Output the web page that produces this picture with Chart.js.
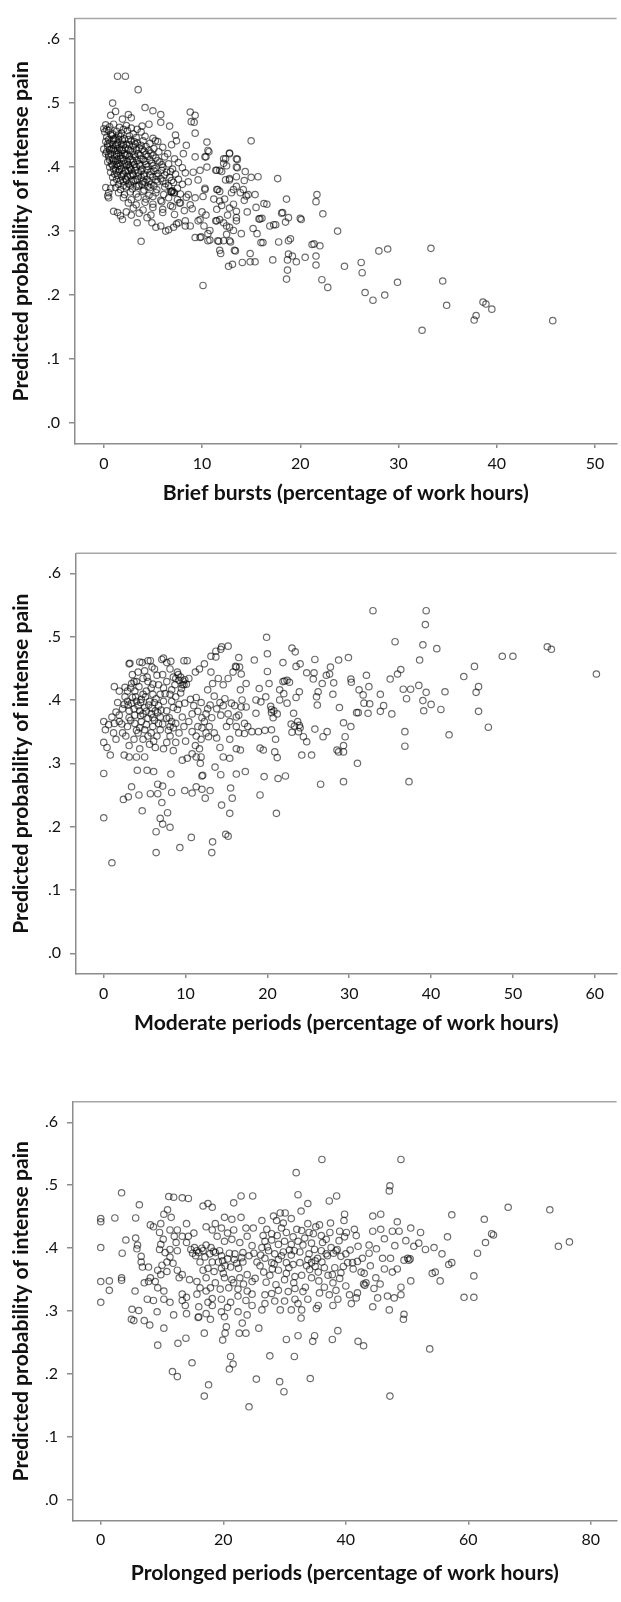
<!DOCTYPE html>
<html lang="en">
<head>
<meta charset="UTF-8">
<title>Predicted probability of intense pain</title>
<style>
    body { margin: 0; background: #fff; }
    .panel { position: absolute; left: 0; }
</style>
</head>
<body>
<canvas id="c1" class="panel" width="621" height="520" style="top:0px"></canvas>
<canvas id="c2" class="panel" width="621" height="520" style="top:530px"></canvas>
<canvas id="c3" class="panel" width="621" height="522" style="top:1080px"></canvas>

<script src="https://cdn.jsdelivr.net/npm/chart.js"></script>
<script>
// tick labels
var yTicks = [0, 0.1, 0.2, 0.3, 0.4, 0.5, 0.6];
var briefTicks = [0, 10, 20, 30, 40, 50];
var moderateTicks = [0, 10, 20, 30, 40, 50, 60];
var prolongedTicks = [0, 20, 40, 60, 80];

var yTitle = 'Predicted probability of intense pain';
var briefTitle = 'Brief bursts (percentage of work hours)';
var moderateTitle = 'Moderate periods (percentage of work hours)';
var prolongedTitle = 'Prolonged periods (percentage of work hours)';

// [x, y] points - brief bursts
var briefBursts = [
 [0.2,.466],[0.6,.463],[1.0,.467],[1.6,.462],[2.3,.465],[2.8,.461],
 [0.1,.455],[0.5,.457],[0.9,.452],[1.3,.456],[1.8,.453],[2.4,.457],[3.0,.452],[3.8,.455],
 [0.3,.447],[0.8,.449],[1.2,.445],[1.7,.448],[2.1,.444],[2.6,.449],[3.3,.446],[4.2,.448],[5.0,.445],
 [0.2,.440],[0.6,.437],[1.0,.441],[1.4,.438],[1.9,.442],[2.3,.436],[2.8,.441],[3.4,.438],[4.0,.441],[4.7,.437],[5.5,.440],
 [0.4,.432],[0.8,.429],[1.2,.433],[1.6,.430],[2.0,.434],[2.5,.428],[3.0,.433],[3.6,.430],[4.3,.432],[5.1,.429],[6.0,.431],
 [0.3,.424],[0.7,.421],[1.1,.425],[1.5,.422],[1.9,.426],[2.4,.420],[2.9,.424],[3.5,.421],[4.1,.425],[4.8,.422],[5.6,.424],[6.5,.421],
 [0.5,.416],[0.9,.413],[1.3,.417],[1.7,.414],[2.2,.418],[2.7,.412],[3.2,.416],[3.8,.413],[4.5,.417],[5.3,.414],[6.2,.416],[7.2,.413],
 [0.4,.408],[0.8,.405],[1.2,.409],[1.6,.406],[2.0,.410],[2.5,.404],[3.0,.408],[3.6,.405],[4.2,.409],[4.9,.406],[5.7,.408],[6.6,.405],[7.6,.407],
 [0.6,.400],[1.0,.397],[1.4,.401],[1.8,.398],[2.3,.402],[2.8,.396],[3.3,.400],[3.9,.397],[4.5,.401],[5.2,.398],[6.0,.400],[7.0,.397],[8.0,.399],
 [0.7,.392],[1.1,.389],[1.5,.393],[2.0,.390],[2.5,.394],[3.0,.388],[3.5,.392],[4.1,.389],[4.8,.393],[5.5,.390],[6.4,.392],[7.3,.389],[8.3,.391],
 [0.9,.384],[1.3,.381],[1.8,.385],[2.2,.382],[2.7,.386],[3.2,.380],[3.8,.384],[4.4,.381],[5.0,.385],[5.8,.382],[6.7,.384],[7.6,.381],
 [1.0,.376],[1.5,.373],[2.0,.377],[2.5,.374],[3.0,.378],[3.6,.372],[4.2,.376],[4.8,.373],[5.5,.377],[6.3,.374],[7.1,.376],[8.0,.373],
 [1.2,.368],[1.7,.365],[2.3,.369],[2.9,.366],[3.5,.370],[4.1,.364],[4.7,.368],[5.4,.365],[6.2,.369],[6.8,.362],[7.5,.367],
 [1.5,.360],[2.1,.357],[2.7,.361],[3.3,.358],[4.0,.362],[4.6,.356],[5.3,.360],[6.1,.357],[6.9,.361],[7.8,.358],
 [2.0,.352],[2.8,.349],[3.5,.353],[4.3,.350],[5.0,.354],[5.8,.348],[6.6,.352],[7.5,.349],[8.4,.353],
 [2.5,.344],[3.3,.341],[4.2,.345],[5.0,.342],[5.9,.346],[6.8,.340],[7.7,.344],
 [3.0,.336],[4.0,.333],[5.0,.337],[6.0,.334],[7.0,.338],[8.2,.332],
 [3.6,.328],[4.8,.325],[6.0,.329],[7.2,.326],
 [0.7,.451],[1.5,.450],[2.0,.459],[0.5,.443],[1.0,.444],[1.5,.443],[2.5,.443],[3.1,.440],
 [0.4,.436],[0.9,.435],[1.3,.435],[1.8,.436],[2.6,.435],[3.2,.436],[3.8,.434],
 [0.6,.427],[1.0,.428],[1.4,.426],[1.8,.427],[2.2,.430],[2.7,.426],[3.3,.427],[3.9,.428],[4.6,.426],
 [0.5,.419],[1.3,.420],[1.7,.418],[2.1,.421],[2.6,.417],[3.1,.420],[3.7,.418],[4.3,.420],[5.0,.418],
 [0.6,.411],[1.0,.410],[1.4,.412],[1.9,.413],[2.4,.409],[2.9,.411],[3.4,.410],[4.0,.412],[4.7,.411],[5.5,.410],
 [0.9,.403],[1.3,.404],[1.7,.402],[2.1,.405],[2.6,.400],[3.1,.404],[3.7,.402],[4.3,.404],[5.0,.402],[5.9,.404],
 [1.2,.395],[1.6,.396],[2.2,.394],[2.7,.398],[3.2,.395],[3.8,.394],[4.4,.396],[5.1,.394],[5.9,.395],[6.8,.393],
 [1.4,.387],[1.9,.388],[2.4,.386],[2.9,.390],[3.5,.386],[4.1,.386],[4.7,.388],[5.4,.386],[6.2,.388],
 [1.7,.379],[2.3,.380],[2.8,.378],[3.4,.381],[4.0,.378],[4.6,.377],[5.3,.380],[6.0,.378],[6.9,.379],
 [2.0,.371],[2.7,.372],[3.3,.370],[3.9,.373],[4.5,.370],[5.1,.371],[6.6,.371],[7.0,.363],[7.2,.360],[6.9,.362],[7.1,.360],
 [1.4,.542],[2.2,.542],[3.5,.521],[0.9,.500],[4.2,.493],[5.0,.488],[5.8,.482],[2.5,.482],[2.8,.477],[1.2,.487],
 [0.7,.481],[6.7,.464],[5.8,.470],[4.6,.467],[3.9,.464],[1.9,.475],[8.8,.486],[9.3,.481],[8.9,.471],[9.2,.470],
 [9.3,.453],[3.4,.459],[5.25,.441],[7.3,.450],[7.4,.441],[8.4,.434],[6.9,.435],[0.3,.459],[0.0,.460],[0.0,.428],[0.2,.421],
 [10.5,.439],[10.6,.426],[8.1,.421],[9.3,.416],[10.3,.416],[12.2,.413],[12.8,.421],[13.5,.413],[11.8,.395],[12.5,.402],
 [11.5,.395],[10.5,.400],[9.8,.395],[13.5,.400],[9.6,.380],[9.1,.392],[12.8,.380],[12.4,.380],[13.5,.385],[8.6,.377],
 [11.5,.365],[11.8,.362],[13.2,.365],[13.5,.370],[10.3,.365],[10.1,.354],[9.3,.352],[8.6,.357],[11.8,.347],[11.5,.334],
 [12.8,.336],[13.5,.331],[9.3,.290],[9.8,.290],[10.6,.285],[10.8,.301],[11.5,.316],[11.8,.318],[12.2,.313],[12.8,.306],
 [12.5,.295],[11.6,.285],[12.2,.285],[13.2,.301],[13.5,.316],[11.8,.270],[13.3,.270],[12.8,.285],[8.8,.341],[7.8,.344],
 [9.6,.316],[9.8,.318],[10.0,.330],[10.4,.325],[9.0,.335],[10.2,.308],
 [1.0,.331],[1.4,.329],[1.7,.324],[1.9,.318],[3.4,.313],[4.4,.321],[4.9,.313],[5.3,.306],[5.8,.308],[6.3,.300],
 [7.1,.306],[7.4,.311],[8.3,.316],[8.8,.308],[7.6,.313],[8.3,.308],[3.8,.284],[0.2,.368],[0.4,.355],[0.5,.360],
 [0.7,.367],[0.5,.352],[6.6,.302],[2.3,.330],[2.8,.325],
 [45.7,.160],[32.4,.145],[33.3,.273],[34.5,.222],[34.9,.184],[37.7,.161],[37.9,.168],[38.6,.189],[38.9,.186],[39.5,.178],
 [28.9,.272],[28.0,.269],[28.6,.200],[27.4,.192],[26.6,.204],[29.9,.220],[26.2,.251],[26.3,.235],[24.5,.245],[23.8,.300],
 [22.8,.212],[22.2,.224],[22.3,.327],[21.7,.357],[21.6,.346],[22.0,.277],[21.4,.280],[21.2,.279],[21.6,.261],[21.6,.247],
 [20.5,.259],[20.0,.320],[20.1,.318],[19.6,.252],[19.2,.261],[18.8,.264],[18.7,.255],[18.7,.239],[18.6,.225],[19.0,.288],
 [18.8,.285],[18.6,.350],[18.5,.314],[18.8,.321],[18.1,.328],[17.8,.283],[17.7,.382],[17.2,.255],[17.5,.310],[16.9,.308],
 [16.3,.343],[16.0,.282],[16.2,.282],[15.8,.319],[15.7,.385],[15.5,.337],[15.4,.252],[15.6,.296],[15.2,.304],[15.0,.441],
 [14.9,.252],[14.9,.265],[15.0,.384],[14.7,.357],[14.2,.365],[14.4,.393],[14.0,.296],[14.1,.251],[13.6,.412],[13.6,.399],
 [13.4,.269],[13.5,.321],[13.2,.342],[13.1,.248],[12.7,.245],[12.8,.422],[12.4,.413],[12.2,.406],[12.8,.382],[12.6,.325],
 [12.5,.308],[12.9,.283],[12.0,.393],[11.9,.265],[11.4,.395],[11.6,.365],[11.7,.284],[11.4,.316],[10.7,.424],[10.4,.416],
 [10.3,.367],[10.1,.215],[10.8,.286],[10.6,.296],[9.9,.291],[14.5,.355],[14.3,.348],[15.9,.319],[16.1,.320],[18.2,.329],
 [14.6,.330],[13.9,.360],[14.3,.379],[15.4,.357],[12.3,.350],[11.2,.350],[17.3,.310],[16.6,.342],[13.0,.360],[12.0,.340]
];

// moderate periods
var moderatePeriods = [
 [0.0,.366],[0.2,.353],[0.0,.333],[0.4,.325],[0.8,.313],[1.3,.421],[1.9,.414],[1.7,.396],[2.3,.386],[1.9,.376],
 [1.3,.363],[1.2,.348],[1.5,.338],[2.3,.348],[3.1,.457],[4.4,.460],[5.4,.462],[3.5,.440],[4.0,.429],[5.0,.446],
 [6.2,.449],[7.1,.464],[7.7,.459],[8.1,.449],[9.8,.462],[8.8,.434],[9.2,.431],[9.6,.424],[7.7,.429],[6.5,.439],
 [3.3,.419],[3.8,.414],[4.8,.409],[5.6,.398],[5.0,.388],[4.4,.383],[3.8,.376],[3.3,.368],[2.9,.358],[5.8,.378],
 [6.2,.368],[6.9,.373],[7.7,.371],[7.7,.383],[8.5,.388],[7.3,.398],[8.1,.409],[9.4,.411],[9.2,.393],[9.6,.373],
 [8.8,.363],[8.1,.358],[6.9,.353],[6.5,.343],[5.8,.348],[5.0,.353],[4.2,.348],[3.7,.338],[3.1,.328],[2.5,.313],
 [3.1,.310],[4.0,.310],[5.0,.310],[4.4,.323],[5.6,.330],[6.3,.325],[7.3,.323],[7.7,.333],[8.5,.320],[8.8,.333],
 [8.1,.343],[9.2,.348],[9.8,.358],[10.0,.335],[10.2,.308],[9.6,.305],[10.8,.315],[11.2,.328],[11.3,.343],[10.8,.350],
 [11.5,.358],[10.4,.366],[10.8,.378],[11.0,.391],[10.6,.401],[11.3,.404],[11.9,.396],[12.5,.378],[12.3,.366],[12.9,.358],
 [13.5,.348],[13.8,.340],[12.5,.348],[11.9,.338],[11.7,.323],[11.3,.310],[11.9,.310],[12.7,.416],[13.3,.426],[14.0,.434],
 [14.6,.424],[13.5,.406],[14.2,.396],[14.6,.391],[13.8,.386],[15.2,.378],[16.0,.391],[16.2,.373],[15.4,.366],[15.0,.358],
 [16.2,.358],[16.5,.348],[15.4,.338],[14.2,.325],[16.2,.323],[15.4,.308],[14.6,.310],[13.1,.444],[15.2,.434],[15.8,.444],
 [16.2,.452],[13.1,.469],[13.7,.477],[14.4,.484],[9.8,.424],[10.4,.434],[11.2,.444],[11.7,.449],[12.3,.457],
 [2.9,.414],[3.5,.404],[4.0,.398],[4.6,.401],[5.2,.414],[5.8,.419],[6.0,.409],[5.4,.429],[4.8,.434],[4.2,.444],
 [3.7,.429],[2.9,.398],[2.5,.393],[3.1,.383],[3.7,.386],[4.2,.391],[4.8,.378],[5.4,.371],[4.6,.366],[3.8,.363],
 [4.4,.356],[5.2,.361],[6.0,.358],[6.7,.363],[6.3,.383],[6.7,.391],[6.2,.396],[8.5,.436],[9.0,.444],[8.7,.424],
 [8.3,.416],[7.3,.419],[6.7,.424],[6.9,.409],[1.9,.366],[1.5,.381],[1.0,.373],[0.6,.361],[9.4,.436],[9.7,.430],
 [8.0,.372],[8.3,.366],[2.6,.405],[3.0,.392],[5.9,.387],[7.0,.384],
 [2.6,.420],[3.4,.426],[4.3,.421],[5.1,.405],[5.5,.392],[6.4,.402],[7.5,.410],[8.3,.398],[8.8,.405],[9.5,.418],
 [9.9,.432],[3.4,.395],[4.5,.375],[5.2,.382],[6.0,.372],[6.6,.380],[7.2,.362],[7.9,.352],[8.5,.356],[3.1,.372],
 [2.2,.362],[4.0,.352],[5.4,.343],[6.1,.335],[4.8,.338],[2.7,.343],[9.0,.385],[9.9,.395],[10.1,.425],[9.1,.440],
 [5.9,.452],[5.3,.436],[6.0,.425],[7.2,.440],[4.5,.396],[3.9,.405],[12.0,.372],[12.7,.386],[13.2,.372],[14.3,.376],
 [14.8,.402],[15.6,.395],[13.0,.392],[11.5,.382],[12.0,.356],[12.8,.342],
 [60.2,.441],[54.2,.484],[54.7,.480],[50.0,.469],[48.7,.469],[47.0,.357],[45.8,.421],[45.8,.382],[45.5,.412],[45.3,.453],
 [44.0,.437],[42.2,.345],[41.7,.413],[41.2,.385],[40.7,.481],[40.0,.393],[39.4,.541],[39.3,.519],[39.0,.487],[39.4,.412],
 [39.0,.399],[39.1,.383],[38.5,.423],[38.6,.463],[37.3,.271],[37.5,.417],[36.6,.417],[37.0,.402],[36.8,.350],[36.8,.327],
 [36.3,.448],[35.9,.441],[35.6,.492],[35.2,.378],[35.0,.433],[34.2,.391],[33.8,.382],[33.8,.409],[32.9,.541],[32.5,.394],
 [32.4,.421],[32.3,.379],[32.1,.439],[31.8,.395],[31.7,.408],[31.2,.416],[30.9,.380],[31.1,.380],[31.0,.300],[30.2,.358],
 [30.2,.433],[30.25,.428],[29.9,.467],[29.5,.342],[29.3,.318],[29.3,.328],[29.3,.271],[29.3,.364],[28.7,.463],[28.8,.388],
 [28.7,.318],[28.5,.321],[28.1,.427],[28.0,.409],[27.7,.452],[27.6,.441],[27.2,.439],[27.3,.350],[26.8,.342],[26.5,.267],
 [26.7,.426],[26.2,.413],[26.1,.392],[26.0,.405],[25.8,.354],[25.8,.464],[25.7,.443],[25.6,.433],[25.4,.313],[24.8,.443],
 [24.8,.334],[24.4,.342],[24.2,.313],[24.0,.457],[23.9,.413],[23.8,.350],[23.7,.366],[23.5,.453],[23.5,.404],[23.3,.359],
 [23.2,.379],[23.0,.482],[23.4,.476],[23.0,.349],[22.9,.362],[22.7,.428],[22.4,.395],[22.2,.280],[21.9,.429],[21.9,.459],
 [21.5,.416],[21.3,.276],[21.1,.221],[21.2,.309],[21.0,.338],[20.9,.318],[20.5,.380],[20.5,.385],[20.5,.353],[20.2,.426],
 [20.0,.473],[19.9,.499],[20.0,.445],[19.8,.405],[19.6,.279],[19.5,.321],[19.1,.250],[19.1,.324],[19.2,.397],[19.0,.418],
 [18.6,.379],[18.4,.463],[18.1,.350],[17.3,.287],[17.4,.426],[17.2,.363],[16.7,.321],[16.5,.467],[16.2,.283],[15.5,.261],
 [15.4,.221],[15.2,.185],[14.9,.188],[15.2,.485],[14.3,.480],[13.7,.468],[13.2,.159],[13.3,.176],[14.4,.234],[14.3,.282],
 [15.7,.245],[13.6,.294],[13.0,.257],[12.4,.245],[12.0,.259],[11.3,.263],[10.7,.183],[9.9,.257],[10.8,.253],[9.3,.167],
 [8.1,.199],[7.8,.222],[7.2,.204],[6.9,.213],[6.4,.192],[6.4,.159],[7.1,.238],[7.2,.264],[6.6,.267],[6.6,.252],
 [8.3,.254],[8.2,.283],[5.7,.252],[4.7,.225],[4.3,.250],[3.4,.263],[3.0,.247],[2.4,.243],[4.1,.289],[5.3,.289],
 [6.1,.287],[0.0,.214],[1.0,.143],[0.0,.284],[3.2,.458],[4.7,.459],[5.7,.462],[7.3,.466],[8.2,.461],[10.2,.462],
 [16.1,.453],[16.8,.441],[16.6,.452],[16.7,.416],[16.9,.400],[16.5,.376],[16.8,.389],[17.4,.389],[17.6,.358],[17.2,.347],
 [18.6,.400],[12.0,.280],[12.1,.281],[11.8,.300],[20.4,.390],[20.8,.383],[21.2,.378],[20.7,.372],[21.5,.400],[22.1,.430],
 [22.4,.431],[18.9,.350],[19.7,.352],[22.0,.410],[23.9,.360],[24.0,.356]
];

// prolonged periods
var prolongedPeriods = [
 [3.4,.488],[0.0,.447],[0.0,.442],[2.3,.448],[5.7,.448],[6.3,.469],[11.1,.482],[13.3,.480],[10.9,.461],[10.3,.454],
 [11.5,.449],[0.0,.401],[3.5,.392],[4.1,.413],[5.7,.416],[6.0,.405],[5.9,.399],[6.6,.387],[6.6,.378],[6.8,.370],
 [1.4,.348],[0.0,.347],[1.4,.333],[0.0,.314],[3.4,.353],[3.4,.349],[5.6,.332],[7.1,.345],[7.8,.370],[8.1,.353],
 [7.6,.319],[8.6,.317],[10.3,.319],[11.3,.314],[7.8,.347],[8.9,.347],[9.3,.337],[10.3,.332],[8.6,.434],[8.1,.437],
 [9.8,.439],[9.6,.425],[10.2,.414],[9.8,.406],[9.6,.398],[10.5,.393],[11.3,.398],[12.3,.409],[12.5,.396],[11.3,.386],
 [10.8,.378],[10.0,.373],[9.3,.365],[9.8,.358],[10.8,.363],[11.8,.376],[12.5,.365],[13.3,.358],[12.8,.353],[14.5,.350],
 [13.3,.327],[14.0,.322],[13.3,.317],[13.8,.309],[11.3,.429],[12.5,.429],[14.0,.439],[14.3,.419],[13.3,.419],[14.0,.409],
 [12.0,.419],[15.2,.424],[15.7,.396],[15.5,.388],[16.2,.378],[16.7,.365],[15.7,.347],[16.2,.337],[17.2,.332],[17.5,.314],
 [16.0,.307],[15.7,.327],[17.2,.353],[16.7,.467],[17.5,.471],[18.2,.465],[21.7,.472],[22.9,.483],[18.7,.439],[20.2,.449],
 [21.4,.446],[22.9,.449],[17.2,.434],[18.2,.429],[19.7,.432],[20.7,.424],[21.7,.429],[23.7,.432],[24.9,.432],[19.0,.419],
 [20.2,.411],[21.4,.414],[22.7,.409],[23.9,.419],[24.7,.404],[14.7,.398],[16.0,.393],[16.7,.396],[18.0,.401],[18.7,.393],
 [19.7,.388],[20.7,.383],[19.2,.378],[18.2,.378],[17.5,.368],[18.5,.363],[19.7,.368],[21.2,.370],[22.2,.376],[23.2,.378],
 [24.2,.388],[23.2,.393],[21.9,.391],[20.2,.353],[21.4,.350],[22.7,.353],[23.9,.358],[24.7,.347],[18.7,.345],[17.9,.337],
 [19.5,.335],[20.9,.337],[22.4,.335],[23.9,.332],[24.7,.327],[18.2,.320],[19.7,.319],[21.2,.314],[22.4,.324],[23.7,.317],
 [24.7,.309],[14.0,.296],[17.2,.296],[16.0,.291],[19.7,.299],[22.4,.299],[23.9,.294],[18.2,.309],[20.7,.306],[15.0,.392],
 [15.3,.401],[17.0,.386],[17.8,.391],
 [16.5,.400],[17.2,.405],[18.4,.395],[19.4,.396],[19.9,.380],[20.3,.372],[21.0,.392],[21.8,.382],[22.5,.368],[23.0,.385],
 [25.0,.392],[25.5,.378],[26.1,.389],[27.2,.402],[28.3,.375],[29.5,.388],[30.7,.369],[31.6,.396],[33.0,.405],[34.1,.366],
 [35.0,.371],[36.1,.378],[37.0,.388],[38.2,.369],[39.2,.361],[40.0,.391],[41.2,.367],[42.7,.384],[43.8,.405],[20.0,.360],
 [21.7,.345],[23.3,.343],[25.2,.352],[27.0,.346],[28.6,.342],[30.0,.350],[31.5,.345],[33.4,.338],[35.6,.348],[37.8,.358],
 [26.5,.420],[28.8,.420],[31.4,.418],[34.0,.425],[36.8,.414],[38.9,.412],[39.8,.418],[35.1,.434],[37.5,.440],
 [32.2,.485],[37.3,.475],[38.5,.483],[47.1,.491],[33.8,.471],[39.8,.454],[39.7,.444],[44.4,.451],[45.7,.454],[48.4,.442],
 [57.3,.453],[26.3,.444],[28.2,.451],[29.3,.456],[30.1,.456],[28.7,.444],[29.8,.440],[31.1,.447],[32.7,.459],[33.8,.439],
 [35.7,.437],[27.1,.430],[27.9,.423],[29.5,.432],[30.3,.425],[32.0,.430],[32.8,.428],[34.7,.423],[36.0,.420],[37.4,.425],
 [39.0,.427],[40.1,.425],[41.4,.430],[41.7,.420],[44.4,.427],[45.7,.430],[46.3,.415],[47.6,.427],[48.7,.427],[50.6,.432],
 [52.2,.425],[51.9,.408],[51.1,.403],[53.0,.398],[54.4,.401],[55.7,.391],[56.6,.418],[56.8,.374],[57.3,.377],[55.4,.348],
 [54.1,.360],[54.6,.362],[50.6,.348],[49.0,.338],[49.5,.381],[50.1,.384],[47.6,.362],[48.4,.367],[47.3,.384],[46.3,.367],
 [44.9,.353],[43.0,.360],[43.3,.345],[42.5,.362],[41.9,.379],[41.1,.377],[40.3,.377],[39.2,.387],[38.4,.396],[37.6,.401],
 [36.8,.391],[36.0,.396],[34.9,.398],[34.4,.408],[33.3,.416],[32.2,.411],[31.1,.406],[30.0,.411],[29.0,.406],[27.9,.413],
 [26.8,.411],[26.3,.401],[27.4,.396],[28.4,.391],[29.8,.394],[31.1,.389],[32.5,.394],[33.8,.382],[34.4,.377],[33.6,.372],
 [32.5,.377],[31.4,.374],[30.3,.377],[29.0,.382],[27.9,.377],[26.8,.384],[26.0,.372],[26.6,.362],[27.6,.357],[29.0,.365],
 [30.3,.360],[31.7,.355],[32.8,.357],[34.4,.353],[35.5,.362],[36.5,.369],[37.1,.357],[37.9,.345],[36.5,.338],[35.7,.329],
 [37.3,.326],[38.4,.333],[40.6,.326],[41.9,.329],[44.6,.336],[45.2,.321],[46.8,.324],[47.9,.321],[49.0,.326],[47.1,.302],
 [44.4,.307],[41.7,.321],[40.9,.312],[38.7,.319],[37.9,.309],[35.5,.309],[33.8,.319],[33.0,.331],[31.7,.336],[30.6,.331],
 [29.0,.333],[27.9,.328],[26.8,.326],[26.8,.312],[28.4,.316],[30.0,.316],[31.7,.319],[32.2,.312],[32.8,.302],[35.2,.304],
 [31.1,.302],[29.3,.302],[26.3,.302],[49.5,.295],[42.9,.343],[43.1,.341],[50.3,.381],[50.5,.383],[35.0,.380],[35.4,.384],
 [38.0,.392],[38.6,.398],[34.0,.391],[36.2,.409],[28.0,.367],[30.8,.397],[39.6,.371],[40.7,.397],[42.0,.403],[43.8,.392],
 [45.0,.399],[46.0,.384],[48.0,.404],[49.8,.412],[44.0,.372],[45.6,.343],[40.0,.340],[39.0,.352],
 [73.3,.461],[76.5,.410],[74.7,.403],[66.5,.465],[64.1,.421],[63.8,.423],[62.6,.446],[62.8,.409],[61.5,.392],[60.9,.356],
 [60.9,.322],[59.3,.322],[53.7,.240],[49.0,.541],[49.4,.287],[47.2,.499],[47.2,.165],[42.9,.245],[42.0,.252],[38.7,.269],
 [37.8,.255],[36.1,.541],[34.9,.261],[34.6,.252],[34.2,.193],[32.7,.289],[32.2,.261],[31.9,.520],[31.6,.228],[30.3,.255],
 [29.9,.172],[29.2,.188],[27.6,.229],[25.8,.273],[25.4,.192],[24.8,.483],[24.2,.148],[23.7,.265],[23.1,.281],[22.6,.265],
 [21.6,.216],[21.2,.228],[21.0,.208],[20.5,.275],[20.3,.265],[20.2,.291],[19.9,.254],[17.9,.287],[17.6,.183],[16.9,.165],
 [16.9,.265],[15.9,.290],[14.9,.218],[13.9,.257],[12.5,.196],[11.7,.204],[12.6,.249],[11.9,.294],[10.3,.273],[9.3,.246],
 [9.2,.299],[8.0,.278],[7.1,.285],[5.4,.285],[5.0,.287],[5.1,.303],[6.2,.301],[11.9,.481],[14.3,.479]
];

var AXIS = '#8c8c8c';
var FRAME = '#a6a6a6';
var INK = '#111';
var FAMILY = 'Lato, "Open Sans", sans-serif';

// title size chosen so the x title is as wide as in the picture
var meas = document.createElement('canvas').getContext('2d');
meas.font = 'bold 100px ' + FAMILY;
var titleSize = 100 * 366 / meas.measureText(briefTitle).width;

function yLabel(v) {
    return v.toFixed(1).replace(/^0/, '');
}

var topLine = {
    id: 'topLine',
    afterDraw: function(chart) {
        var a = chart.chartArea, ctx = chart.ctx;
        ctx.save();
        ctx.strokeStyle = FRAME;
        ctx.lineWidth = 1.5;
        ctx.beginPath();
        ctx.moveTo(a.left, a.top);
        ctx.lineTo(a.right, a.top);
        ctx.stroke();
        ctx.restore();
    }
};

// lay: canvas top/height, chart top, chart bottom, axis left, x/y ranges, title centre
function drawPanel(id, points, xTicks, xTitle, lay) {
    var canvas = document.getElementById(id);
    var lh = titleSize * 1.2;
    new Chart(canvas, {
        type: 'scatter',
        data: {
            datasets: [{
                data: points.map(function(p) { return {x: p[0], y: p[1]}; }),
                pointStyle: 'circle',
                pointRadius: 3.2,
                pointHoverRadius: 3.2,
                borderWidth: 1.2,
                borderColor: 'rgba(0,0,0,0.58)',
                backgroundColor: 'rgba(0,0,0,0)'
            }]
        },
        options: {
            responsive: false,
            animation: false,
            devicePixelRatio: 1,
            events: [],
            layout: { padding: { top: lay.top - lay.canvasTop, left: 0, right: 0, bottom: 0 } },
            plugins: { legend: { display: false }, tooltip: { enabled: false } },
            scales: {
                x: {
                    type: 'linear',
                    min: lay.xMin,
                    max: lay.xMax,
                    afterBuildTicks: function(s) { s.ticks = xTicks.map(function(v) { return {value: v}; }); },
                    afterFit: function(s) { s.height = lay.canvasTop + lay.canvasH - lay.bottom; },
                    grid: { drawOnChartArea: false, tickLength: 4, color: AXIS, lineWidth: 1.5 },
                    border: { color: AXIS, width: 1.5 },
                    ticks: { padding: 6, color: INK, autoSkip: false, maxRotation: 0, font: { family: FAMILY, size: 16 } },
                    title: {
                        display: true, text: xTitle, color: INK,
                        font: { family: FAMILY, size: titleSize, weight: 'bold' },
                        padding: { top: 0, bottom: lay.canvasTop + lay.canvasH - lay.xTitleY - lh / 2 }
                    }
                },
                y: {
                    type: 'linear',
                    min: lay.yMin,
                    max: lay.yMax,
                    afterBuildTicks: function(s) { s.ticks = yTicks.map(function(v) { return {value: v}; }); },
                    afterFit: function(s) { s.width = lay.left; },
                    grid: { drawOnChartArea: false, tickLength: 6, color: AXIS, lineWidth: 1.5 },
                    border: { color: AXIS, width: 1.5 },
                    ticks: { padding: 9, color: INK, autoSkip: false, callback: yLabel, font: { family: FAMILY, size: 16 } },
                    title: {
                        display: true, text: yTitle, color: INK,
                        font: { family: FAMILY, size: titleSize, weight: 'bold' },
                        padding: { top: lay.yTitleX - lh / 2, bottom: 0 }
                    }
                }
            }
        },
        plugins: [topLine]
    });
}

drawPanel('c1', briefBursts, briefTicks, briefTitle, {
    canvasTop: 0, canvasH: 520, top: 10.7, bottom: 444, left: 75,
    xMin: -2.93, xMax: 52.2, yMin: -0.0327, yMax: 0.632, xTitleY: 493, yTitleX: 21
});
drawPanel('c2', moderatePeriods, moderateTicks, moderateTitle, {
    canvasTop: 530, canvasH: 520, top: 553.3, bottom: 974, left: 76,
    xMin: -3.39, xMax: 62.67, yMin: -0.0327, yMax: 0.6316, xTitleY: 1023, yTitleX: 21
});
drawPanel('c3', prolongedPeriods, prolongedTicks, prolongedTitle, {
    canvasTop: 1080, canvasH: 522, top: 1101.7, bottom: 1520.7, left: 73,
    xMin: -4.53, xMax: 84.2, yMin: -0.0329, yMax: 0.6327, xTitleY: 1573, yTitleX: 21.5
});
</script>
</body>
</html>
